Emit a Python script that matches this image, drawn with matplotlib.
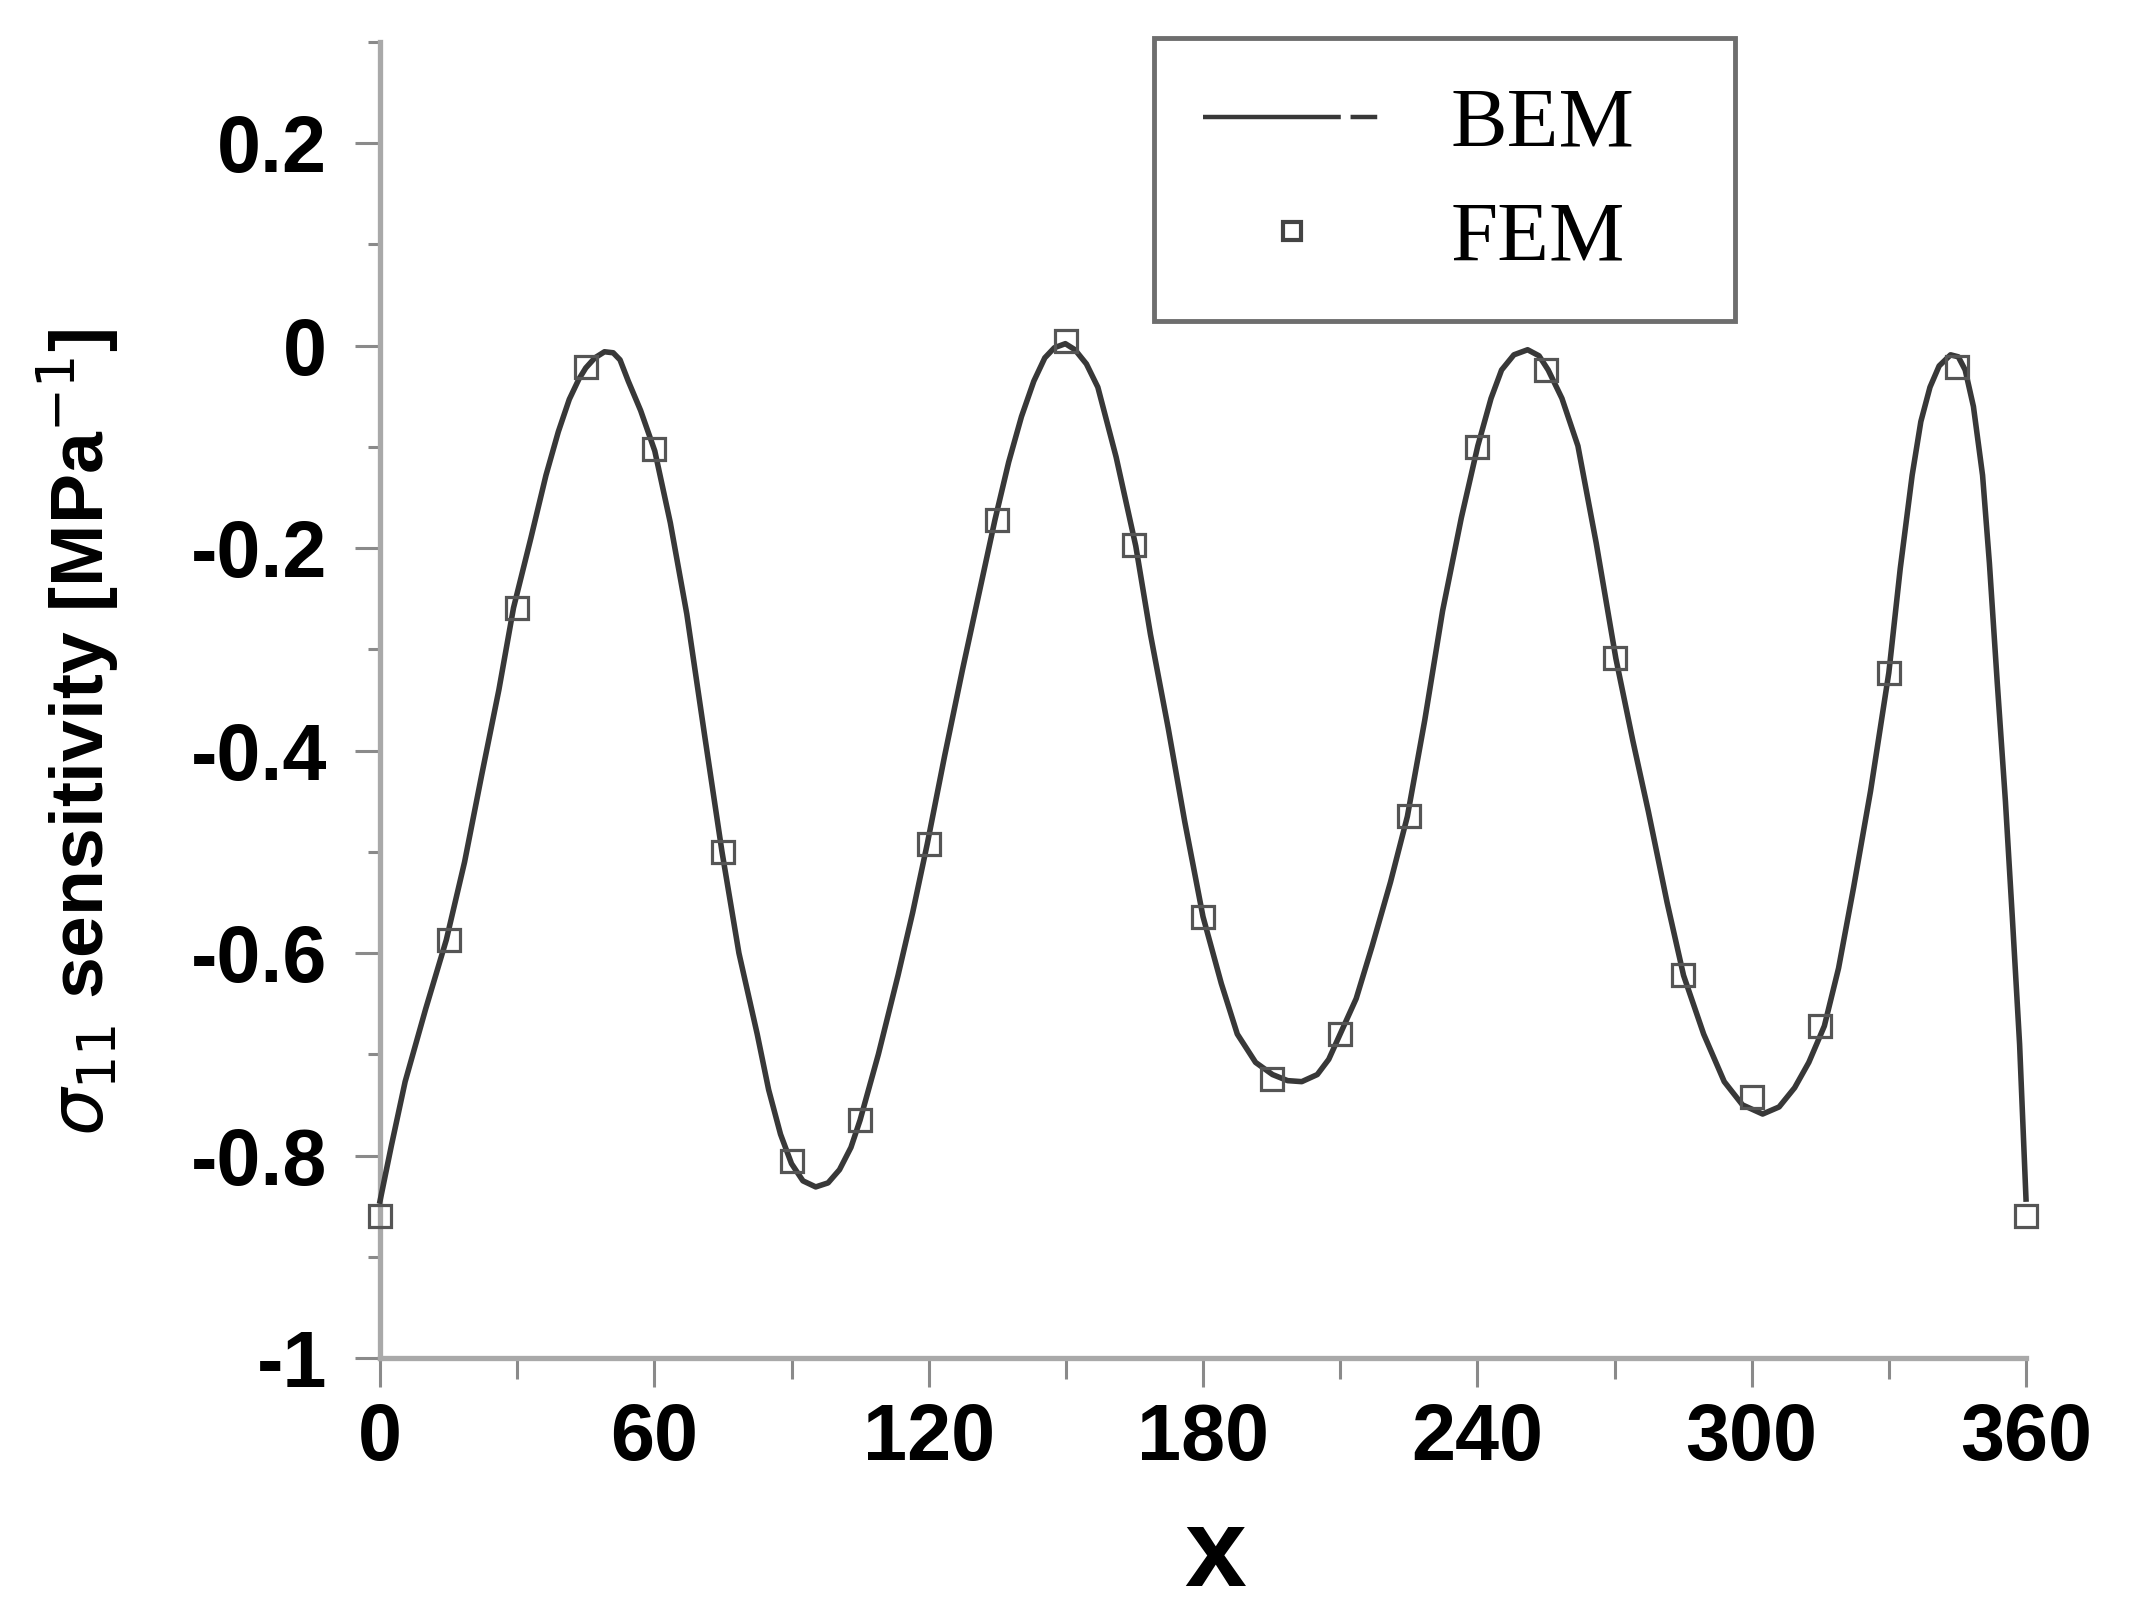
import matplotlib
matplotlib.use("Agg")
import matplotlib.pyplot as plt
from matplotlib.lines import Line2D
from matplotlib.patches import Rectangle
from matplotlib.ticker import MultipleLocator, FixedLocator, FixedFormatter

# BEM curve
bem_x = [0, 2.5, 5.5, 10, 14.5, 18.5, 22.2, 26, 29.2, 33, 36.3, 39, 41.4, 43.5, 45,
         47, 49.1, 51, 52.5, 54.3, 57, 60.1, 63.5, 67.1, 71, 74.8, 78.5, 82.5, 85,
         87.6, 90, 92.5, 95.3, 98, 100.5, 103, 105, 109, 113.3, 116.5, 119.7, 123.5,
         127.4, 131, 134.5, 137.5, 140.3, 143, 145.4, 147.5, 149.9, 152, 154.5, 157,
         161, 165.3, 168.5, 172.4, 176, 180, 184, 187.5, 191.5, 195.2, 198.5, 201.6,
         205, 207.5, 210, 213.5, 217, 221, 224.7, 228.5, 232.4, 236.5, 240.1, 243,
         245.3, 248, 251, 253.5, 255.5, 258.5, 262, 266, 270.3, 274, 277.4, 281.5,
         285.1, 289.5, 294, 298, 302.4, 306, 309.4, 312.5, 315.9, 319, 322.3, 326,
         330, 332.5, 335.1, 337, 339, 341, 343.5, 345.2, 346.7, 348.5, 350.5, 352,
         353.7, 355.5, 357, 358.6, 360]
bem_y = [-0.845, -0.79, -0.727, -0.655, -0.587, -0.51, -0.425, -0.34, -0.259, -0.19,
         -0.128, -0.085, -0.053, -0.033, -0.022, -0.012, -0.006, -0.007, -0.014,
         -0.035, -0.064, -0.104, -0.175, -0.265, -0.385, -0.50, -0.60, -0.68, -0.735,
         -0.779, -0.808, -0.825, -0.831, -0.827, -0.814, -0.792, -0.765, -0.70,
         -0.622, -0.56, -0.492, -0.405, -0.32, -0.245, -0.172, -0.115, -0.07, -0.035,
         -0.012, -0.002, 0.002, -0.004, -0.018, -0.041, -0.11, -0.198, -0.285, -0.378,
         -0.47, -0.564, -0.63, -0.68, -0.708, -0.72, -0.726, -0.727, -0.72, -0.705,
         -0.68, -0.645, -0.593, -0.53, -0.465, -0.37, -0.262, -0.17, -0.099, -0.052,
         -0.024, -0.009, -0.004, -0.01, -0.024, -0.052, -0.099, -0.195, -0.309, -0.39,
         -0.46, -0.55, -0.622, -0.68, -0.727, -0.75, -0.759, -0.752, -0.733, -0.708,
         -0.672, -0.615, -0.535, -0.44, -0.323, -0.22, -0.128, -0.075, -0.041, -0.02,
         -0.009, -0.011, -0.024, -0.06, -0.128, -0.215, -0.332, -0.45, -0.564, -0.69,
         -0.843]

# FEM points, every 15 degrees
fem_x = [0, 15, 30, 45, 60, 75, 90, 105, 120, 135, 150, 165, 180, 195, 210, 225, 240,
         255, 270, 285, 300, 315, 330, 345, 360]
fem_y = [-0.86, -0.587, -0.259, -0.021, -0.102, -0.500, -0.805, -0.765, -0.492, -0.172,
         0.005, -0.197, -0.564, -0.724, -0.680, -0.465, -0.100, -0.024, -0.309, -0.622,
         -0.742, -0.672, -0.323, -0.021, -0.86]

x_ticks = [0, 60, 120, 180, 240, 300, 360]
y_ticks = [0.2, 0, -0.2, -0.4, -0.6, -0.8, -1]
y_labels = ["0.2", "0", "-0.2", "-0.4", "-0.6", "-0.8", "-1"]

plt.rcParams["font.family"] = ["Liberation Sans", "DejaVu Sans"]
plt.rcParams["axes.unicode_minus"] = False

fig = plt.figure(figsize=(21.42, 16.22), dpi=100)
ax = fig.add_axes([380 / 2142, 1 - 1358 / 1622, 1646 / 2142, 1316 / 1622])

line_col = "#383838"
ax.plot(bem_x, bem_y, color=line_col, lw=4, zorder=3, clip_on=False,
        solid_joinstyle="round")
ax.plot(fem_x, fem_y, ls="none", marker="s", ms=16, mfc="none", mec="#555555",
        mew=2.3, zorder=4, clip_on=False)

ax.set_xlim(0, 360)
ax.set_ylim(-1, 0.3)

for s in ["top", "right"]:
    ax.spines[s].set_visible(False)
for s in ["left", "bottom"]:
    ax.spines[s].set_color("#a9a9a9")
    ax.spines[s].set_linewidth(3.8)

ax.xaxis.set_major_locator(FixedLocator(x_ticks))
ax.xaxis.set_minor_locator(MultipleLocator(30))
ax.yaxis.set_major_locator(FixedLocator(y_ticks))
ax.yaxis.set_major_formatter(FixedFormatter(y_labels))
ax.yaxis.set_minor_locator(MultipleLocator(0.1))

ax.tick_params(axis="x", which="major", direction="out", length=21, width=2.2,
               color="#8a8a8a", pad=11, labelsize=57)
ax.tick_params(axis="x", which="minor", direction="out", length=15, width=2.2,
               color="#8a8a8a")
ax.tick_params(axis="y", which="major", direction="out", length=18, width=2.2,
               color="#8a8a8a", pad=20, labelsize=57)
ax.tick_params(axis="y", which="minor", direction="out", length=9, width=2.2,
               color="#8a8a8a")
for lab in ax.get_xticklabels() + ax.get_yticklabels():
    lab.set_fontweight("bold")

fig.text(1215 / 2142, 1 - 1557 / 1622, "x", fontsize=80, fontweight="bold",
         ha="center", va="center")
fig.text(78 / 2142, 1 - 733 / 1622, r"$\sigma_{11}$ sensitivity [MPa$^{-1}$]",
         rotation=90, ha="center", va="center", fontsize=54, fontweight="bold",
         family=["DejaVu Sans Condensed", "Liberation Sans Narrow",
                 "Liberation Sans", "DejaVu Sans"])

# legend
ax.add_patch(Rectangle((0.470, 0.788), 0.353, 0.215, transform=ax.transAxes,
                       fill=False, ec="#6e6e6e", lw=3.5, clip_on=False, zorder=5))
h_bem = Line2D([], [], color=line_col, lw=3.2, dashes=(31, 2.2, 6, 2.2))
h_fem = Line2D([], [], ls="none", marker="s", ms=13, mfc="none", mec="#444444", mew=3)
leg = ax.legend([h_bem, h_fem], ["BEM", "FEM"], loc="center left",
                bbox_to_anchor=(0.500, 0.893), frameon=False, borderpad=0,
                borderaxespad=0, handlelength=2.1, handletextpad=0.82,
                labelspacing=0.44, prop={"family": "Liberation Serif", "size": 61})

fig.savefig("out.png", dpi=100, facecolor="white")
